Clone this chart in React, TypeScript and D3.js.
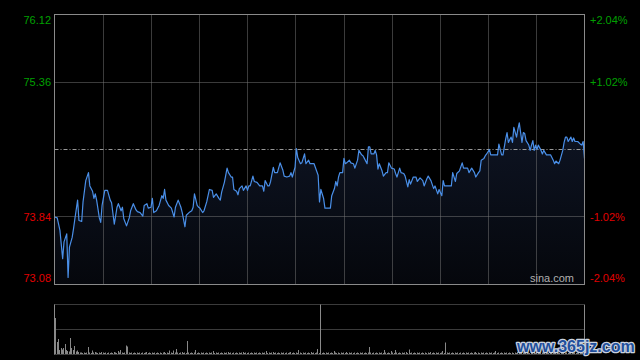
import React from 'react';
import * as d3 from 'd3';

const priceTicks = [76.12, 75.36, 73.84, 73.08];
const pctTicks = ['+2.04%', '+1.02%', '-1.02%', '-2.04%'];
const prevClose = 74.6;
const priceMin = 73.08;
const priceMax = 76.12;
const sessionMinutes = 390;

const minutes = [
  0, 2, 4, 6, 7, 9, 10, 11, 13, 14, 15, 17, 18, 20, 21, 23, 25, 26, 28, 29,
  30, 31, 33, 34, 35, 37, 39, 41, 42, 44, 46, 47, 49, 50, 51, 53, 55, 56, 58, 60,
  61, 63, 65, 66, 68, 69, 71, 72, 73, 75, 77, 79, 80, 81, 82, 84, 86, 88, 89, 91,
  93, 94, 96, 97, 99, 101, 102, 103, 105, 106, 107, 109, 110, 112, 114, 116, 117, 119, 121, 122,
  123, 125, 127, 128, 130,
  131, 132, 134, 135, 136, 138, 139, 141, 142, 143, 144, 146, 147, 149, 151, 153, 154, 155, 157, 158,
  159, 161, 162, 164, 166, 168, 169, 171, 173, 174, 175, 177, 178, 179, 181, 182, 184, 185, 187, 188,
  191, 194, 195, 196, 198, 199, 201, 203, 204, 206, 207, 208, 209, 210, 212, 213, 214, 215, 217, 218,
  220, 221, 223, 224, 226, 227, 228, 230, 231, 232, 233, 235, 236, 237, 238, 239, 241, 242, 244, 245,
  246, 248, 250, 251, 252, 254, 255, 257, 258, 260, 261, 262, 264, 266, 267, 269, 271, 272, 274, 275,
  277, 279, 280, 282, 283, 285, 286, 287, 290, 292, 293, 295, 296, 298, 300, 301, 304, 305, 307, 309,
  310, 312, 313, 314, 316, 317, 318, 320, 321, 323, 326, 327, 329, 330, 332, 333, 334, 336, 337, 338,
  340, 341, 342, 344, 345, 346, 347, 349, 350, 351, 352, 353, 354, 355, 356, 358, 359, 360, 362, 364,
  365, 367, 368, 369, 371, 372, 374, 375, 376, 377, 378, 380, 381, 382, 383, 385, 387, 388, 389, 390,
];

const prices = [
  73.84, 73.83, 73.69, 73.37, 73.56, 73.65, 73.16, 73.5, 73.61, 73.71, 73.82, 74.03, 73.8, 73.79, 74.01, 74.25, 74.34, 74.19, 74.13, 74.05,
  74.1, 74.03, 73.83, 73.78, 73.97, 74.14, 74.14, 74.03, 74.0, 73.76, 73.95, 73.99, 73.91, 73.95, 73.82, 73.74, 73.83, 73.91, 73.99, 73.92,
  73.9, 73.89, 73.85, 73.97, 73.99, 73.94, 73.95, 74.05, 73.89, 73.91, 73.97, 74.08, 74.05, 74.15, 74.03, 73.97, 73.94, 73.84, 73.95, 74.03,
  73.95, 73.89, 73.73, 73.86, 73.89, 73.91, 73.95, 74.1, 73.97, 73.95, 73.94, 73.89, 73.91, 74.01, 74.15, 74.14, 74.06, 74.1, 74.05, 74.03,
  74.12, 74.23, 74.39, 74.34, 74.29,
  74.29, 74.15, 74.13, 74.09, 74.16, 74.19, 74.14, 74.19, 74.14, 74.19, 74.19, 74.3, 74.24, 74.23, 74.19, 74.19, 74.13, 74.25, 74.19, 74.19,
  74.24, 74.4, 74.34, 74.34, 74.45, 74.37, 74.3, 74.29, 74.3, 74.34, 74.29, 74.4, 74.61, 74.51, 74.44, 74.45, 74.55, 74.44, 74.48, 74.44,
  74.44, 74.31, 74.01, 74.15, 74.05, 73.94, 73.94, 73.94, 74.08, 74.16, 74.24, 74.19, 74.29, 74.34, 74.34, 74.5, 74.44, 74.45, 74.48, 74.45,
  74.44, 74.39, 74.48, 74.59, 74.54, 74.53, 74.5, 74.44, 74.63, 74.63, 74.55, 74.55, 74.59, 74.54, 74.38, 74.44, 74.36, 74.3, 74.34, 74.34,
  74.45, 74.39, 74.38, 74.33, 74.29, 74.39, 74.34, 74.33, 74.3, 74.18, 74.26, 74.21, 74.29, 74.29, 74.24, 74.28, 74.25, 74.19, 74.27, 74.3,
  74.25, 74.16, 74.19, 74.1, 74.15, 74.08, 74.25, 74.19, 74.19, 74.19, 74.34, 74.24, 74.33, 74.36, 74.45, 74.39, 74.39, 74.34, 74.39, 74.34,
  74.29, 74.34, 74.36, 74.48, 74.5, 74.53, 74.55, 74.6, 74.54, 74.54, 74.54, 74.66, 74.54, 74.54, 74.72, 74.79, 74.68, 74.74, 74.68, 74.85,
  74.74, 74.83, 74.9, 74.68, 74.79, 74.78, 74.7, 74.65, 74.59, 74.65, 74.7, 74.59, 74.65, 74.6, 74.65, 74.59, 74.55, 74.59, 74.54, 74.54,
  74.54, 74.48, 74.44, 74.47, 74.44, 74.48, 74.59, 74.68, 74.74, 74.74, 74.69, 74.74, 74.69, 74.73, 74.69, 74.69, 74.66, 74.65, 74.69, 74.5,
];

// volume per minute (relative units, panel max = 100)
const volumes = [
  72, 24, 30, 8, 12, 9, 12, 20, 8, 6, 5, 32, 12, 8, 16, 5, 7, 4, 3, 3, 2, 3, 2, 3, 14, 3, 2, 7, 3, 4,
  3, 2, 3, 2, 4, 3, 2, 3, 2, 3, 2, 3, 2, 4, 3, 2, 6, 3, 8, 3, 2, 3, 17, 15, 3, 2, 3, 2, 3, 2,
  3, 2, 3, 2, 3, 2, 3, 4, 2, 3, 2, 3, 2, 3, 2, 3, 2, 3, 2, 3, 4, 2, 3, 2, 7, 3, 2, 7, 3, 10,
  3, 2, 3, 4, 2, 3, 2, 26, 3, 2, 3, 2, 3, 8, 2, 3, 2, 3, 2, 3, 2, 3, 2, 3, 2, 3, 6, 2, 3, 2,
  3, 2, 3, 2, 3, 2, 3, 4, 2, 3, 2, 3, 2, 3, 2, 3, 2, 3, 4, 2, 3, 2, 3, 2, 3, 2, 3, 2, 3, 2,
  3, 2, 3, 2, 3, 6, 2, 3, 2, 3, 4, 2, 3, 2, 3, 2, 3, 2, 3, 2, 3, 2, 3, 4, 2, 3, 2, 3, 2, 8,
  3, 2, 3, 2, 3, 2, 3, 2, 4, 2, 3, 2, 3, 10, 2, 3, 2, 3, 2, 3, 2, 3, 2, 3, 2, 6, 3, 2, 3, 2,
  3, 2, 3, 2, 4, 2, 3, 2, 3, 2, 3, 2, 3, 2, 3, 2, 3, 2, 3, 2, 3, 14, 3, 2, 3, 2, 3, 2, 3, 2,
  3, 2, 8, 3, 2, 3, 2, 6, 3, 2, 8, 3, 2, 3, 2, 3, 2, 3, 4, 2, 9, 2, 3, 2, 3, 2, 3, 2, 3, 2,
  3, 2, 3, 2, 3, 2, 4, 2, 3, 2, 3, 2, 3, 2, 3, 6, 2, 23, 3, 2, 3, 2, 3, 2, 3, 2, 3, 2, 3, 2,
  3, 2, 3, 2, 3, 2, 3, 2, 3, 4, 2, 3, 2, 3, 2, 3, 2, 3, 2, 3, 2, 3, 2, 3, 6, 2, 3, 2, 3, 2,
  3, 2, 3, 2, 3, 2, 3, 2, 3, 2, 4, 2, 3, 2, 3, 2, 3, 2, 3, 2, 3, 2, 3, 2, 4, 2, 3, 2, 3, 2,
  3, 2, 3, 2, 3, 2, 3, 2, 3, 2, 3, 2, 3, 2, 4, 2, 3, 2, 3, 2, 3, 2, 3, 2, 3, 2, 3, 2, 3, 4,
];

const GREEN = '#00a000';
const RED = '#e00000';

export default function App() {
  const W = 640;
  const H = 360;
  const left = 54.5;
  const right = 584.5;
  const top = 14.5;
  const bottom = 284.5;
  const vTop = 304.5;
  const vBottom = 354.5;

  const x = d3.scaleLinear().domain([0, sessionMinutes]).range([left, right]);
  const y = d3.scaleLinear().domain([priceMin, priceMax]).range([bottom, top]);
  const v = d3.scaleLinear().domain([0, 100]).range([vBottom - 0.5, vTop - 0.5]);

  const data = minutes.map((m, i) => ({ m, p: prices[i] }));
  const line = d3.line<any>().x((d) => x(d.m)).y((d) => y(d.p));
  const area = d3.area<any>().x((d) => x(d.m)).y0(bottom).y1((d) => y(d.p));

  const step = (right - left) / 11;
  const vLines = d3.range(1, 11).map((k) => Math.round(left + k * step) + 0.5);
  const gridY = (p: number) => Math.floor(y(p)) + 0.5;
  const midY = gridY(prevClose);
  const midX = Math.round((left + right) / 2) + 0.5;

  const font = 'Arial, "Liberation Sans", sans-serif';
  const labelY = (i: number, p: number) => {
    if (i === 0) return y(p) + 6;
    if (i === priceTicks.length - 1) return y(p) - 6;
    return y(p);
  };

  return (
    <svg
      width={W}
      height={H}
      style={{ position: 'absolute', left: 0, top: 0, display: 'block' }}
    >
      <defs>
        <linearGradient id="areaGrad" gradientUnits="userSpaceOnUse" x1="0" y1={top} x2="0" y2={bottom}>
          <stop offset="0%" stopColor="#141d33" />
          <stop offset="100%" stopColor="#05070c" />
        </linearGradient>
      </defs>
      <rect x={0} y={0} width={W} height={H} fill="#000" />

      {/* area + line */}
      <path d={area(data) || ''} fill="url(#areaGrad)" />

      {/* grid */}
      {vLines.map((vx, i) => (
        <line key={'v' + i} x1={vx} x2={vx} y1={top} y2={bottom} stroke="#777" strokeDasharray="1,1" />
      ))}
      {priceTicks.slice(1, 3).map((p, i) => (
        <line key={'h' + i} x1={left} x2={right} y1={gridY(p)} y2={gridY(p)} stroke="#777" strokeDasharray="1,1" />
      ))}
      <line x1={left} x2={right} y1={midY} y2={midY} stroke="#999" strokeDasharray="4,2,1,2" />

      <path d={line(data) || ''} fill="none" stroke="#4a8fe8" strokeWidth={1.2} strokeLinejoin="round" />

      {/* frame */}
      <rect x={left} y={top} width={right - left} height={bottom - top} fill="none" stroke="#8a8a8a" strokeWidth={1} />

      {/* labels */}
      {priceTicks.map((p, i) => (
        <text
          key={'pl' + i}
          x={51}
          y={labelY(i, p)}
          dy="0.35em"
          textAnchor="end"
          fontFamily={font}
          fontSize={11}
          fill={p > prevClose ? GREEN : RED}
        >
          {p.toFixed(2)}
        </text>
      ))}
      {pctTicks.map((t, i) => (
        <text
          key={'pr' + i}
          x={590}
          y={labelY(i, priceTicks[i])}
          dy="0.35em"
          textAnchor="start"
          fontFamily={font}
          fontSize={11}
          fill={t.startsWith('+') ? GREEN : RED}
        >
          {t}
        </text>
      ))}
      <text x={574} y={282} textAnchor="end" fontFamily={font} fontSize={11} fill="#b0b0b0">
        sina.com
      </text>

      {/* volume panel */}
      <line x1={left} x2={right} y1={vTop} y2={vTop} stroke="#777" strokeDasharray="1,1" />
      <line x1={left} x2={right} y1={(vTop + vBottom) / 2} y2={(vTop + vBottom) / 2} stroke="#777" strokeDasharray="1,1" />
      <line x1={left} x2={right} y1={vBottom} y2={vBottom} stroke="#777" strokeDasharray="1,1" />
      {volumes.map((vol, i) => {
        const bx = Math.round(x(i + 0.5));
        const top2 = v(vol);
        return (
          <rect key={'vb' + i} x={bx} y={top2} width={1} height={vBottom - 0.5 - top2} fill="#888" />
        );
      })}
      <line x1={left} x2={left} y1={vTop} y2={vBottom} stroke="#8a8a8a" />
      <line x1={right} x2={right} y1={vTop} y2={vBottom} stroke="#8a8a8a" />
      <line x1={midX} x2={midX} y1={vTop} y2={vBottom} stroke="#8a8a8a" />

      {/* watermark */}
      <text
        x={517}
        y={352}
        fontFamily={font}
        fontWeight="bold"
        fontSize={16}
        fill="#1f4f9c"
        stroke="#c9d1de"
        strokeWidth={2.5}
        paintOrder="stroke"
        strokeLinejoin="round"
      >
        www.365jz.com
      </text>
    </svg>
  );
}
